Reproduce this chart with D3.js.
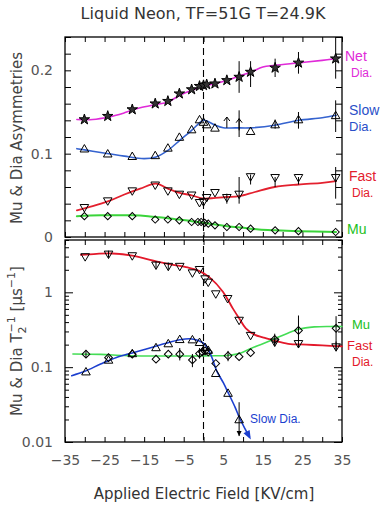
<!DOCTYPE html>
<html>
<head>
<meta charset="utf-8">
<script src="https://cdn.jsdelivr.net/npm/d3@7"></script>
<style>
body { margin: 0; background: #fff; }
svg { display: block; }
text { font-family: "DejaVu Sans", sans-serif; }
</style>
</head>
<body>
<div id="wrapper"></div>
<script>
// ---- tick values
const fieldTicks = [-35, -30, -25, -20, -15, -10, -5, 0, 5, 10, 15, 20, 25, 30, 35];
const fieldLabels = [-35, -25, -15, -5, 5, 15, 25, 35];
const asymTicks = [0, 0.02, 0.04, 0.06, 0.08, 0.1, 0.12, 0.14, 0.16, 0.18, 0.2, 0.22, 0.24];
const asymLabels = [0, 0.1, 0.2];
const rateMajor = [0.01, 0.1, 1];
const rateMinor = [0.02, 0.03, 0.04, 0.05, 0.06, 0.07, 0.08, 0.09, 0.2, 0.3, 0.4, 0.5, 0.6, 0.7, 0.8, 0.9, 2, 3, 4, 5];

// ---- upper panel: asymmetries
const netField  = [-30.1, -24.2, -18, -12.2, -9, -6.1, -3, -1, 0, 0.8, 2.9, 5.9, 9, 11.9, 18.1, 24, 33.4];
const netAsym   = [0.141, 0.145, 0.153, 0.160, 0.163, 0.172, 0.177, 0.181, 0.182, 0.183, 0.184, 0.188, 0.192, 0.198, 0.203, 0.209, 0.214];
const netErr    = [[9, 0.173, 0.211], [11.9, 0.180, 0.211], [18.1, 0.192, 0.214], [24, 0.196, 0.222], [33.4, 0.190, 0.240]];
const netFit    = [[-32,0.141],[-28,0.141],[-24,0.144],[-20,0.149],[-16,0.155],[-12,0.159],[-9,0.162],[-6,0.170],[-3,0.176],[0,0.181],[3,0.184],[6,0.188],[9,0.193],[12,0.198],[15,0.204],[18,0.206],[24,0.209],[30,0.212],[33.5,0.214]];

const slowField = [-30.1, -24.2, -18, -12.2, -9, -6.1, -3, -1, 0, 0.8, 2.9, 11.9, 18.1, 24, 33.4];
const slowAsym  = [0.105, 0.099, 0.096, 0.097, 0.106, 0.119, 0.128, 0.140, 0.137, 0.134, 0.130, 0.126, 0.134, 0.140, 0.145];
const slowErr   = [[9, 0.120, 0.152], [18.1, 0.130, 0.141], [24, 0.130, 0.150], [33.4, 0.126, 0.164]];
const slowLimit = [[5.9, 0.131, 0.144], [9, 0.128, 0.142]];
const slowFit   = [[-32,0.106],[-28,0.103],[-24,0.100],[-20,0.097],[-15,0.094],[-12,0.096],[-9,0.104],[-6,0.116],[-3,0.128],[-1,0.137],[0,0.140],[1,0.139],[3,0.134],[5,0.131],[8,0.131],[12,0.131],[18,0.134],[24,0.140],[30,0.143],[33.5,0.146]];

const fastField = [-30.1, -24.2, -18, -12.2, -9, -6.1, -3, -1, 0, 0.8, 2.9, 5.9, 9, 11.9, 18.1, 24, 33.4];
const fastAsym  = [0.036, 0.044, 0.056, 0.063, 0.056, 0.052, 0.051, 0.042, 0.043, 0.048, 0.054, 0.048, 0.052, 0.073, 0.072, 0.072, 0.072];
const fastErr   = [[5.9, 0.040, 0.052], [9, 0.040, 0.072], [11.9, 0.063, 0.075], [18.1, 0.060, 0.072], [24, 0.063, 0.072], [33.4, 0.046, 0.084]];
const fastFit   = [[-32,0.032],[-28,0.037],[-24,0.043],[-20,0.051],[-16,0.058],[-12,0.064],[-9,0.058],[-6,0.053],[-3,0.050],[0,0.046],[3,0.047],[6,0.048],[9,0.049],[13,0.054],[18,0.060],[24,0.063],[30,0.065],[33.5,0.067]];

const muField   = [-30.1, -24.2, -18, -12.2, -9, -6.1, -3, -1.4, -0.6, 0.3, 1.2, 2.9, 5.9, 9, 11.9, 18.1, 24, 33.4];
const muAsym    = [0.025, 0.025, 0.025, 0.021, 0.021, 0.020, 0.018, 0.018, 0.018, 0.017, 0.016, 0.014, 0.012, 0.012, 0.010, 0.008, 0.007, 0.006];
const muFit     = [[-32,0.025],[-26,0.026],[-18,0.026],[-14,0.025],[-10,0.023],[-6,0.021],[-3,0.019],[0,0.017],[3,0.015],[6,0.013],[10,0.011],[14,0.009],[18,0.008],[24,0.007],[33.5,0.006]];

// ---- lower panel: relaxation rates (us^-1)
const fastRateField = [-29.9, -24, -18, -12, -8.9, -6, -2.8, -1, 0.4, 1.2, 3.1, 6.1, 9, 11.9, 18, 24, 33.5];
const fastRate      = [3.04, 3.29, 3.13, 2.35, 2.26, 2.26, 1.85, 2.05, 1.54, 1.39, 0.97, 0.84, 0.43, 0.27, 0.22, 0.21, 0.19];
const fastRateErr   = [[-24, 2.9, 3.6], [-12, 2.1, 2.6], [-8.9, 2.0, 2.5], [18, 0.19, 0.24], [33.5, 0.17, 0.22]];
const fastRateFit   = [[-31,3.17],[-27,3.27],[-23,3.3],[-18,3.1],[-12,2.6],[-8,2.35],[-4,2.15],[-1,1.92],[1.6,1.57],[4.9,1.02],[7.4,0.61],[9,0.45],[10.7,0.33],[13,0.27],[15,0.25],[18,0.225],[21.4,0.205],[26,0.2],[30,0.195],[35,0.19]];

const muRateField = [-29.7, -24, -18, -12, -8.9, -6, -2.8, -1, -0.3, 0.4, 1.2, 3.1, 6.2, 9, 11.9, 18, 24, 33.5];
const muRate      = [0.149, 0.134, 0.149, 0.128, 0.149, 0.149, 0.125, 0.152, 0.16, 0.165, 0.16, 0.112, 0.142, 0.138, 0.156, 0.235, 0.31, 0.33];
const muRateErr   = [[-29.7, 0.135, 0.165], [-6, 0.123, 0.18], [-2.8, 0.10, 0.15], [-1, 0.13, 0.18], [6.2, 0.12, 0.165], [18, 0.20, 0.28], [24, 0.18, 0.49], [33.5, 0.17, 0.48]];
const muRateFit   = [[-33,0.15],[-26,0.148],[-20,0.143],[-14,0.141],[-8,0.141],[-2,0.141],[3,0.142],[6,0.143],[9,0.152],[12,0.178],[15,0.205],[18,0.24],[21,0.28],[24,0.32],[28,0.345],[32,0.35],[35,0.35]];

const slowRateField = [-29.7, -24, -18, -12, -8.9, -6, -2.8, -1, 0.4, 1.2, 3.1, 6.2, 9];
const slowRate      = [0.085, 0.122, 0.149, 0.179, 0.202, 0.230, 0.228, 0.21, 0.18, 0.165, 0.081, 0.044, 0.0195];
const slowRateErr   = [[9, 0.012, 0.034]];
const slowRateFit   = [[-33.3,0.077],[-30,0.088],[-26,0.11],[-22,0.135],[-18,0.155],[-14,0.178],[-10,0.205],[-6,0.232],[-3.4,0.24],[-1.5,0.228],[0.4,0.2],[2,0.14],[3.3,0.09],[5,0.062],[6.2,0.046],[8,0.029],[9,0.0216],[10.5,0.015],[11.6,0.0117]];

const width = 384, height = 512;
const left = 65, right = 342;
const upper = {top: 37, bottom: 237};
const lower = {top: 240, bottom: 442};

const svg = d3.select("#wrapper").append("svg")
    .attr("width", width)
    .attr("height", height);

const x = d3.scaleLinear().domain([-35, 35]).range([left, right]);
const yA = d3.scaleLinear().domain([0, 0.24]).range([upper.bottom, upper.top]);
const yR = d3.scaleLog().domain([0.01, 5]).range([lower.bottom, lower.top]);

const fmtField = d => fieldLabels.includes(d) ? d3.format("d")(d) : "";
const fmtAsym = d => asymLabels.some(v => Math.abs(v - d) < 1e-9) ? d3.format("~g")(d) : "";

function styleAxis(g) {
    g.select(".domain").remove();
    g.selectAll(".tick line").attr("stroke", "#000").attr("stroke-width", 1);
    g.selectAll(".tick text").attr("fill", "#555").style("font-size", "14px")
        .style("font-family", "DejaVu Sans, sans-serif");
}

// x ticks on all four horizontal edges
svg.append("g").attr("transform", "translate(0," + upper.top + ")")
    .call(d3.axisTop(x).tickValues(fieldTicks).tickSizeInner(-5).tickSizeOuter(0).tickFormat(""))
    .call(styleAxis);
svg.append("g").attr("transform", "translate(0," + upper.bottom + ")")
    .call(d3.axisBottom(x).tickValues(fieldTicks).tickSizeInner(-5).tickSizeOuter(0).tickFormat(""))
    .call(styleAxis);
svg.append("g").attr("transform", "translate(0," + lower.top + ")")
    .call(d3.axisTop(x).tickValues(fieldTicks).tickSizeInner(-5).tickSizeOuter(0).tickFormat(""))
    .call(styleAxis);
svg.append("g").attr("transform", "translate(0," + lower.bottom + ")")
    .call(d3.axisBottom(x).tickValues(fieldTicks).tickSizeInner(-5).tickSizeOuter(0).tickPadding(13).tickFormat(fmtField))
    .call(styleAxis);

// upper y ticks
svg.append("g").attr("transform", "translate(" + left + ",0)")
    .call(d3.axisLeft(yA).tickValues(asymTicks).tickSizeInner(-6).tickSizeOuter(0).tickPadding(12).tickFormat(fmtAsym))
    .call(styleAxis);
svg.append("g").attr("transform", "translate(" + right + ",0)")
    .call(d3.axisRight(yA).tickValues(asymTicks).tickSizeInner(-6).tickSizeOuter(0).tickFormat(""))
    .call(styleAxis);

// lower (log) y ticks
svg.append("g").attr("transform", "translate(" + left + ",0)")
    .call(d3.axisLeft(yR).tickValues(rateMinor).tickSizeInner(-4).tickSizeOuter(0).tickFormat(""))
    .call(styleAxis);
svg.append("g").attr("transform", "translate(" + left + ",0)")
    .call(d3.axisLeft(yR).tickValues(rateMajor).tickSizeInner(-8).tickSizeOuter(0).tickPadding(12).tickFormat(d3.format("~g")))
    .call(styleAxis);
svg.append("g").attr("transform", "translate(" + right + ",0)")
    .call(d3.axisRight(yR).tickValues(rateMinor).tickSizeInner(-4).tickSizeOuter(0).tickFormat(""))
    .call(styleAxis);
svg.append("g").attr("transform", "translate(" + right + ",0)")
    .call(d3.axisRight(yR).tickValues(rateMajor).tickSizeInner(-8).tickSizeOuter(0).tickFormat(""))
    .call(styleAxis);

// frames
[upper, lower].forEach(p => {
    svg.append("rect")
        .attr("x", left).attr("y", p.top)
        .attr("width", right - left).attr("height", p.bottom - p.top)
        .attr("fill", "none").attr("stroke", "#000").attr("stroke-width", 1.3);
});

// dashed zero-field line
svg.append("line")
    .attr("x1", x(0)).attr("x2", x(0))
    .attr("y1", upper.top).attr("y2", lower.bottom)
    .attr("stroke", "#000").attr("stroke-width", 1.1)
    .attr("stroke-dasharray", "7,4");

// ---- fit curves
function drawFit(data, yScale, color, w) {
    svg.append("path")
        .datum(data)
        .attr("fill", "none")
        .attr("stroke", color)
        .attr("stroke-width", w)
        .attr("stroke-linecap", "round")
        .attr("d", d3.line().x(d => x(d[0])).y(d => yScale(d[1])).curve(d3.curveCatmullRom.alpha(0.5)));
}

drawFit(netFit, yA, "#e02ad8", 1.6);
drawFit(slowFit, yA, "#3563cf", 1.6);
drawFit(fastFit, yA, "#e3202e", 1.8);
drawFit(muFit, yA, "#3ad43a", 2);

drawFit(fastRateFit, yR, "#e3182a", 1.8);
drawFit(muRateFit, yR, "#44dd55", 1.6);
drawFit(slowRateFit, yR, "#1c3fcf", 1.6);

// arrowhead at the end of slow-rate curve
(function() {
    const a = slowRateFit[slowRateFit.length - 2], b = slowRateFit[slowRateFit.length - 1];
    const x1 = x(a[0]), y1 = yR(a[1]), x2 = x(b[0]), y2 = yR(b[1]);
    const ang = Math.atan2(y2 - y1, x2 - x1) * 180 / Math.PI;
    svg.append("path")
        .attr("d", "M3,0 L-6,-3.5 L-6,3.5 Z")
        .attr("fill", "#1c3fcf")
        .attr("transform", "translate(" + x2 + "," + y2 + ") rotate(" + ang + ")");
})();

// ---- error bars
function drawErr(list, yScale, color) {
    svg.append("g").selectAll("line")
        .data(list).enter().append("line")
        .attr("x1", d => x(d[0])).attr("x2", d => x(d[0]))
        .attr("y1", d => yScale(d[1])).attr("y2", d => yScale(d[2]))
        .attr("stroke", color || "#000").attr("stroke-width", 1);
}
drawErr(netErr, yA);
drawErr(slowErr, yA);
drawErr(fastErr, yA);
drawErr(fastRateErr, yR);
drawErr(muRateErr, yR);
drawErr(slowRateErr, yR);

// upward limit arrows (slow dia asymmetry)
svg.append("g").selectAll("path")
    .data(slowLimit).enter().append("path")
    .attr("d", d => {
        const px = x(d[0]), y0 = yA(d[1]), y1 = yA(d[2]);
        return "M" + px + "," + y0 + "L" + px + "," + y1 +
            "M" + (px - 3) + "," + (y1 + 4) + "L" + px + "," + y1 + "L" + (px + 3) + "," + (y1 + 4);
    })
    .attr("fill", "none").attr("stroke", "#000").attr("stroke-width", 1);

// downward arrow on last slow rate point
svg.append("path")
    .attr("d", () => {
        const px = x(slowRateErr[0][0]), yb = yR(slowRateErr[0][1]);
        return "M" + (px - 2.5) + "," + (yb - 5) + "L" + px + "," + yb + "L" + (px + 2.5) + "," + (yb - 5) + "Z";
    })
    .attr("fill", "#000");

// ---- markers
function drawPoints(fields, values, yScale, type, size, rot, fill) {
    const sym = d3.symbol().type(type).size(size);
    svg.append("g").selectAll("path")
        .data(fields.map((f, i) => [f, values[i]])).enter().append("path")
        .attr("d", sym)
        .attr("transform", d => "translate(" + x(d[0]) + "," + yScale(d[1]) + ") rotate(" + rot + ")")
        .attr("fill", fill)
        .attr("stroke", "#000")
        .attr("stroke-width", 1);
}

drawPoints(netField, netAsym, yA, d3.symbolStar, 34, 0, "#333");
drawPoints(slowField, slowAsym, yA, d3.symbolTriangle, 32, 0, "none");
drawPoints(fastField, fastAsym, yA, d3.symbolTriangle, 32, 180, "none");
drawPoints(muField, muAsym, yA, d3.symbolSquare, 26, 45, "none");

drawPoints(fastRateField, fastRate, yR, d3.symbolTriangle, 32, 180, "none");
drawPoints(muRateField, muRate, yR, d3.symbolSquare, 30, 45, "none");
drawPoints(slowRateField, slowRate, yR, d3.symbolTriangle, 32, 0, "none");

// ---- texts
svg.append("text")
    .attr("x", 203).attr("y", 19)
    .attr("text-anchor", "middle")
    .attr("fill", "#333")
    .style("font-size", "16px")
    .text("Liquid Neon, TF=51G T=24.9K");

svg.append("text")
    .attr("x", 204).attr("y", 499)
    .attr("text-anchor", "middle")
    .attr("fill", "#333")
    .style("font-size", "15px")
    .text("Applied Electric Field [KV/cm]");

svg.append("text")
    .attr("transform", "translate(22,138) rotate(-90)")
    .attr("text-anchor", "middle")
    .attr("fill", "#444")
    .style("font-size", "15px")
    .text("Mu & Dia Asymmetries");

const rl = svg.append("text")
    .attr("transform", "translate(22,341) rotate(-90)")
    .attr("text-anchor", "middle")
    .attr("fill", "#444")
    .style("font-size", "15px");
rl.append("tspan").text("Mu & Dia T");
rl.append("tspan").attr("dy", 4).style("font-size", "11px").text("2");
rl.append("tspan").attr("dx", -6).attr("dy", -11).style("font-size", "11px").text("−1");
rl.append("tspan").attr("dy", 7).text(" [μs");
rl.append("tspan").attr("dy", -7).style("font-size", "11px").text("−1");
rl.append("tspan").attr("dy", 7).text("]");

const sideLabels = [
    ["Net", 345, 61, "#e02ad8", 14], ["Dia.", 351, 77, "#e02ad8", 12],
    ["Slow", 349, 115, "#2a4fc8", 14], ["Dia.", 349, 131, "#2a4fc8", 13],
    ["Fast", 349, 181, "#e3202e", 14], ["Dia.", 352, 197, "#e3202e", 12],
    ["Mu", 347, 234, "#22c022", 14],
    ["Mu", 352, 329, "#22c022", 13],
    ["Fast", 347, 350, "#e3182a", 13], ["Dia.", 352, 366, "#e3182a", 12],
    ["Slow Dia.", 250, 423, "#1c3fcf", 12]
];
svg.append("g").selectAll("text")
    .data(sideLabels).enter().append("text")
    .attr("x", d => d[1]).attr("y", d => d[2])
    .attr("fill", d => d[3])
    .style("font-size", d => d[4] + "px")
    .style("font-family", "Liberation Sans, sans-serif")
    .text(d => d[0]);
</script>
</body>
</html>
